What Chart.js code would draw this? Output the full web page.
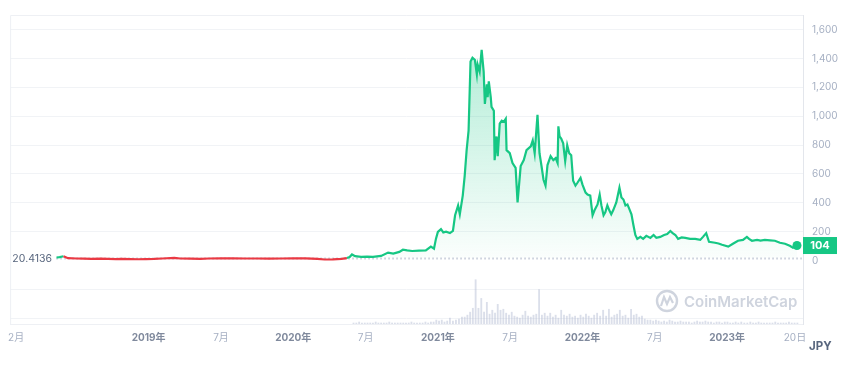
<!DOCTYPE html>
<html>
<head>
<meta charset="utf-8">
<script src="https://cdn.jsdelivr.net/npm/chart.js@4/dist/chart.umd.min.js"></script>
<style>
  html,body{margin:0;padding:0;background:#fff}
  #wrap{width:845px;height:369px}
</style>
</head>
<body>
<div id="wrap"><canvas id="c" width="845" height="369"></canvas></div>
<script>
// price in JPY
priceDates = [
 '2018-05-12','2018-05-20','2018-05-30','2018-06-10','2018-07-01','2018-07-20','2018-08-09','2018-09-01',
 '2018-09-20','2018-10-10','2018-10-24','2018-11-15','2018-12-05','2018-12-25','2019-01-15','2019-02-05',
 '2019-03-05','2019-03-20','2019-04-15','2019-05-10','2019-06-01','2019-07-01','2019-08-01','2019-09-01',
 '2019-10-01','2019-11-01','2019-12-01','2020-01-01','2020-02-01','2020-03-01','2020-03-20','2020-04-10',
 '2020-05-01','2020-05-15','2020-05-22','2020-05-28','2020-06-05','2020-06-20','2020-07-05','2020-07-20',
 '2020-08-10','2020-08-28','2020-09-10','2020-09-25','2020-10-04','2020-10-15','2020-10-28','2020-11-14',
 '2020-12-01','2020-12-14','2020-12-22','2020-12-27','2021-01-01','2021-01-09','2021-01-15','2021-01-22',
 '2021-02-01','2021-02-08','2021-02-13','2021-02-20','2021-02-24','2021-03-03','2021-03-08','2021-03-13',
 '2021-03-18','2021-03-23','2021-03-28','2021-04-03','2021-04-08','2021-04-10','2021-04-15','2021-04-20',
 '2021-04-25','2021-04-28','2021-05-03','2021-05-05','2021-05-08','2021-05-13','2021-05-15','2021-05-21',
 '2021-05-23','2021-05-28','2021-05-31','2021-06-05','2021-06-10','2021-06-15','2021-06-20','2021-06-22',
 '2021-06-30','2021-07-07','2021-07-15','2021-07-20','2021-07-28','2021-08-05','2021-08-12','2021-08-23',
 '2021-08-28','2021-09-02','2021-09-09','2021-09-14','2021-09-19','2021-09-24','2021-09-29','2021-10-04',
 '2021-10-12','2021-10-19','2021-10-25','2021-10-30','2021-11-01','2021-11-04','2021-11-08','2021-11-13',
 '2021-11-18','2021-11-23','2021-11-28','2021-12-03','2021-12-08','2021-12-14','2021-12-19','2021-12-27',
 '2022-01-01','2022-01-09','2022-01-14','2022-01-21','2022-01-27','2022-02-01','2022-02-08','2022-02-13',
 '2022-02-17','2022-02-22','2022-02-26','2022-03-03','2022-03-08','2022-03-13','2022-03-18','2022-03-26',
 '2022-04-03','2022-04-08','2022-04-13','2022-04-18','2022-04-23','2022-04-28','2022-05-03','2022-05-08',
 '2022-05-13','2022-05-18','2022-05-26','2022-06-02','2022-06-10','2022-06-20','2022-06-28','2022-07-05',
 '2022-07-15','2022-07-25','2022-08-02','2022-08-10','2022-08-16','2022-08-23','2022-08-30','2022-09-08',
 '2022-09-17','2022-09-29','2022-10-12','2022-10-25','2022-11-01','2022-11-09','2022-11-16','2022-12-01',
 '2022-12-10','2022-12-19','2023-01-04','2023-01-16','2023-01-29','2023-02-10','2023-02-19','2023-02-24',
 '2023-03-03','2023-03-16','2023-03-25','2023-04-05','2023-04-18','2023-04-30','2023-05-13','2023-05-26',
 '2023-06-07','2023-06-15','2023-06-25'
]
priceValues = [
 21,24,30,16,14,13,12,13,
 11,10,11,10,9,10,11,14,
 18,14,13,12,14,15,15,14,
 14,13,14,15,15,11,7,8,
 12,17,24,42,30,25,27,26,
 32,55,48,60,75,70,66,68,
 70,96,82,150,198,218,195,200,
 190,205,314,382,321,450,587,765,
 901,1379,1406,1392,1290,1358,1310,1461,
 1310,1085,1222,1133,1242,1133,1065,1038,
 696,860,723,949,969,962,983,765,
 744,676,642,403,655,696,765,792,
 833,744,1010,744,655,560,519,662,
 723,696,710,676,930,860,846,812,
 689,799,744,730,553,519,539,573,
 526,471,457,450,314,348,389,457,
 382,314,334,382,348,321,348,403,
 505,437,423,382,389,355,321,246,
 177,150,164,150,171,157,177,157,
 164,177,184,205,190,177,150,160,
 157,150,150,143,164,190,130,123,
 118,109,96,116,137,143,164,150,
 137,143,138,143,140,137,123,116,
 102,89,104
]

// weekly volume, starting 2020-06-01
volStart = '2020-06-01'
volValues = [
 1,1,2,1,1,1,1,1,2,1,1,1,1,2,1,1,1,1,1,1,1,2,1,1,1,1,2,1,2,2,
 4,3,4,2,3,6,3,4,5,7,
 7,9,12,16,45,16,26,12,22,10,
 14,11,20,14,15,11,9,12,8,7,
 6,9,13,8,7,9,10,35,9,11,
 8,11,7,9,6,14,9,8,10,7,
 8,6,9,7,10,8,6,9,11,8,
 14,8,15,7,9,10,14,8,9,6,
 15,9,10,7,8,5,4,4,3,4,
 3,2,3,2,4,3,2,2,3,2,
 2,2,1,2,3,2,2,3,2,2,
 1,2,2,1,2,2,1,1,2,1,
 2,1,1,2,1,1,2,1,1,1,
 1,1,2,1,1,1,1,2,1,1,1
]

xTickDates  = ['2018-02-01','2019-01-01','2019-07-01','2020-01-01','2020-07-01','2021-01-01','2021-07-01','2022-01-01','2022-07-01','2023-01-01','2023-06-20']
xTickLabels = ['2月','2019年','7月','2020年','7月','2021年','7月','2022年','7月','2023年','20日']
yTicks = [-400,-200,0,200,400,600,800,1000,1200,1400,1600]

REF = 20.4136
GREEN = '#16c784'
RED = '#ea3943'
FONT = "Inter, 'Noto Sans CJK JP', sans-serif"

function toM(s){
    var p = s.split('-').map(Number)
    var dim = new Date(Date.UTC(p[0], p[1], 0)).getUTCDate()
    return (p[0]-2018)*12 + (p[1]-1) + (p[2]-1)/dim
}

priceData = priceDates.map(function(d,i){ return {x: toM(d), y: priceValues[i]} })
volData = volValues.map(function(v,i){
    var t = new Date(volStart+'T00:00:00Z')
    t.setUTCDate(t.getUTCDate() + 7*i)
    return {x: toM(t.toISOString().slice(0,10)), y: v}
})
xTicks = xTickDates.map(toM)
last = priceData.length-1

extras = {
    id: 'extras',
    beforeDatasetsDraw: function(chart){
        var c = chart.ctx, a = chart.chartArea, ys = chart.scales.y, xs = chart.scales.x
        c.save()
        // frame
        c.strokeStyle = '#eef0f4'
        c.lineWidth = 1
        c.beginPath()
        c.moveTo(a.left+0.5, a.bottom); c.lineTo(a.left+0.5, a.top+0.5); c.lineTo(a.right, a.top+0.5)
        c.stroke()
        // watermark
        c.strokeStyle = '#cfd4de'
        c.fillStyle = '#cfd4de'
        c.lineWidth = 2.4
        c.beginPath(); c.arc(667, 301, 10, 0, Math.PI*2); c.stroke()
        c.lineWidth = 2.2
        c.beginPath()
        c.moveTo(661, 306); c.lineTo(664, 297); c.lineTo(667, 304); c.lineTo(670, 297); c.lineTo(673, 303)
        c.stroke()
        c.font = '600 15px ' + FONT
        c.textBaseline = 'middle'
        c.textAlign = 'left'
        c.fillText('CoinMarketCap', 684, 302)
        // reference dotted line
        var yr = Math.round(ys.getPixelForValue(REF)) + 0.5
        c.strokeStyle = '#a6b0c3'
        c.setLineDash([1,3])
        c.beginPath(); c.moveTo(xs.getPixelForValue(priceData[0].x), yr); c.lineTo(a.right, yr); c.stroke()
        c.restore()
    },
    afterDraw: function(chart){
        var c = chart.ctx, ys = chart.scales.y, xs = chart.scales.x, a = chart.chartArea
        c.save()
        var yr = ys.getPixelForValue(REF)
        c.font = '10.5px ' + FONT
        c.fillStyle = '#58667e'
        c.textAlign = 'right'
        c.textBaseline = 'middle'
        c.fillText('20.4136', 52, yr+1)
        // last price badge
        var yl = ys.getPixelForValue(priceValues[last])
        c.fillStyle = GREEN
        c.fillRect(a.right, yl-8.5, 34, 17)
        c.fillStyle = '#fff'
        c.font = 'bold 11px ' + FONT
        c.textAlign = 'center'
        c.fillText(String(priceValues[last]), a.right+17, yl+0.5)
        // currency
        c.fillStyle = '#58667e'
        c.textAlign = 'left'
        c.font = 'bold 11.5px ' + FONT
        c.fillText('JPY', 809, 347)
        c.restore()
    }
}

new Chart(document.getElementById('c'), {
    data: {
        datasets: [{
            type: 'line',
            label: 'price',
            data: priceData,
            yAxisID: 'y',
            borderWidth: 2.2,
            tension: 0,
            borderColor: GREEN,
            segment: {
                borderColor: function(s){ return s.p1.parsed.y < REF ? RED : GREEN }
            },
            pointRadius: function(ctx){ return ctx.dataIndex === last ? 4.5 : 0 },
            pointBackgroundColor: GREEN,
            pointBorderWidth: 0,
            fill: {value: REF},
            backgroundColor: function(ctx){
                var ch = ctx.chart, a = ch.chartArea
                if(!a) return 'rgba(22,199,132,0.1)'
                var yb = ch.scales.y.getPixelForValue(REF)
                var g = ch.ctx.createLinearGradient(0, ch.scales.y.getPixelForValue(1460), 0, yb)
                g.addColorStop(0, 'rgba(22,199,132,0.32)')
                g.addColorStop(1, 'rgba(22,199,132,0.02)')
                return g
            },
            order: 1
        },{
            type: 'bar',
            label: 'volume',
            data: volData,
            yAxisID: 'yv',
            backgroundColor: 'rgba(175,184,208,0.45)',
            barThickness: 1.2,
            grouped: false,
            order: 2
        }]
    },
    options: {
        responsive: false,
        animation: false,
        events: [],
        layout: {padding: {left: 8, top: 10, right: 0, bottom: 0}},
        plugins: {legend: {display: false}, tooltip: {enabled: false}},
        scales: {
            x: {
                type: 'linear',
                offset: false,
                min: 0.503,
                max: 66.3,
                afterBuildTicks: function(s){ s.ticks = xTicks.map(function(v){ return {value: v} }) },
                afterFit: function(s){ s.height = 45 },
                grid: {display: false, drawTicks: false},
                border: {display: true, color: '#eef0f4'},
                ticks: {
                    autoSkip: false,
                    maxRotation: 0,
                    padding: 8,
                    callback: function(v, i){ return xTickLabels[i] },
                    font: function(ctx){
                        var l = xTickLabels[ctx.index] || ''
                        return {family: FONT, size: 10, weight: l.indexOf('年') > 0 ? 'bold' : 'normal'}
                    },
                    color: function(ctx){
                        var l = xTickLabels[ctx.index] || ''
                        return l.indexOf('年') > 0 ? '#808a9d' : '#a6b0c3'
                    }
                }
            },
            y: {
                type: 'linear',
                position: 'right',
                min: -440,
                max: 1702,
                afterBuildTicks: function(s){ s.ticks = yTicks.map(function(v){ return {value: v} }) },
                afterFit: function(s){ s.width = 42 },
                grid: {
                    drawTicks: false,
                    color: function(ctx){ return ctx.tick && ctx.tick.value === 0 ? 'rgba(0,0,0,0)' : '#f1f3f6' }
                },
                border: {display: true, color: '#e3e6ec'},
                ticks: {
                    padding: 9,
                    color: '#a6b0c3',
                    font: {family: FONT, size: 10},
                    callback: function(v){ return v < 0 ? '' : v.toLocaleString('en-US') }
                }
            },
            yv: {
                type: 'linear',
                display: false,
                min: 0,
                max: 314
            }
        }
    },
    plugins: [extras]
})
</script>
</body>
</html>
